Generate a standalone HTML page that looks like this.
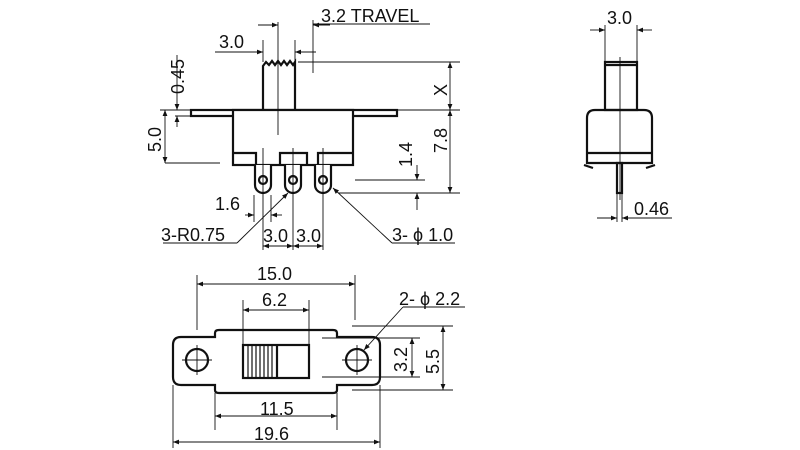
<!DOCTYPE html>
<html><head><meta charset="utf-8"><style>
body{margin:0;background:#fff;}
svg{display:block;}
text{font-family:"Liberation Sans",Arial,sans-serif;font-size:18px;fill:#111;}
</style></head><body>
<svg width="800" height="450" viewBox="0 0 800 450" xmlns="http://www.w3.org/2000/svg">
<defs>
<marker id="a" viewBox="0 0 10 10" refX="10" refY="5" markerWidth="9" markerHeight="6" orient="auto-start-reverse" markerUnits="userSpaceOnUse"><path d="M0,1 L10,5 L0,9 z" fill="#111"/></marker>
</defs>
<g fill="none" stroke="#111">
<g stroke-width="2.2">
<rect x="191" y="110" width="206" height="6"/>
<rect x="233" y="110" width="120" height="55" fill="#fff"/>
<path d="M233,153 H256 V165 M280,165 V153 H307 V165 M318,165 V153 H353"/>
<path d="M263,110 V66 L266,62 L269,65 L272,61 L275,65 L278,61 L281,65 L284,61 L287,65 L290,61 L293,65 L295,62 V110"/>
<path d="M255,165 V185 A8,8 0 0 0 271,185 V165" fill="#fff"/>
<path d="M285,165 V185 A8,8 0 0 0 301,185 V165" fill="#fff"/>
<path d="M315,165 V185 A8,8 0 0 0 331,185 V165" fill="#fff"/>
<circle cx="263" cy="180" r="4"/><circle cx="293" cy="180" r="4"/><circle cx="323" cy="180" r="4"/>
</g>
<g stroke-width="0.9">
<path d="M278,22 V135 M293,148 V250 M263,148 V250 M323,148 V250 M254,195 V222 M271,195 V222"/>
<path d="M313,20 V73 M263,40 V62 M295,40 V62"/>
<path d="M298,62 H460 M397,110 H460 M338,193 H460 M355,180 H425 M160,110 H191 M175,116 H191 M165,163 H220"/>
<path d="M430,24 H313"/>
<line x1="258" y1="25" x2="278" y2="25" marker-end="url(#a)"/>
<line x1="330" y1="25" x2="313" y2="25" marker-end="url(#a)"/>
<line x1="215" y1="52" x2="263" y2="52" marker-end="url(#a)"/>
<line x1="316" y1="52" x2="295" y2="52" marker-end="url(#a)"/>
<line x1="450" y1="62" x2="450" y2="110" marker-start="url(#a)" marker-end="url(#a)"/>
<line x1="450" y1="110" x2="450" y2="193" marker-start="url(#a)" marker-end="url(#a)"/>
<line x1="417" y1="165" x2="417" y2="180" marker-end="url(#a)"/>
<line x1="417" y1="210" x2="417" y2="193" marker-end="url(#a)"/>
<line x1="177" y1="55" x2="177" y2="110" marker-end="url(#a)"/>
<line x1="177" y1="127" x2="177" y2="116" marker-end="url(#a)"/>
<line x1="165" y1="110" x2="165" y2="163" marker-start="url(#a)" marker-end="url(#a)"/>
<line x1="245" y1="215" x2="254" y2="215" marker-end="url(#a)"/>
<line x1="282" y1="215" x2="271" y2="215" marker-end="url(#a)"/>
<line x1="263" y1="246" x2="293" y2="246" marker-start="url(#a)" marker-end="url(#a)"/>
<line x1="293" y1="246" x2="323" y2="246" marker-start="url(#a)" marker-end="url(#a)"/>
<path d="M163,243 H237"/>
<line x1="237" y1="243" x2="288" y2="193" marker-end="url(#a)"/>
<path d="M455,243 H392"/>
<line x1="392" y1="243" x2="333" y2="188" marker-end="url(#a)"/>
</g>
<g stroke-width="2.2">
<path d="M587,163 V118 Q587,110 595,110 H644 Q652,110 652,118 V163 Z"/>
<path d="M587,153 H652"/>
<rect x="605" y="62" width="32" height="48"/><path d="M605,65 H637"/>
<rect x="617" y="163" width="5" height="30"/>
<path d="M584,165 L593,168 M655,165 L646,168"/>
</g>
<g stroke-width="0.9">
<path d="M620,57 V200 M605,25 V62 M637,25 V62 M617,193 V222 M622,193 V222"/>
<line x1="590" y1="30" x2="605" y2="30" marker-end="url(#a)"/>
<line x1="652" y1="30" x2="637" y2="30" marker-end="url(#a)"/>
<line x1="597" y1="218" x2="617" y2="218" marker-end="url(#a)"/>
<line x1="672" y1="218" x2="622" y2="218" marker-end="url(#a)"/>
</g>
<g stroke-width="2.2">
<path d="M215,337 V333 Q215,330 219,330 H333 Q337,330 337,333 V337 H372 Q380,337 380,345 V377 Q380,385 372,385 H337 V390 Q337,393 333,393 H219 Q215,393 215,390 V385 H181 Q173,385 173,377 V345 Q173,337 181,337 Z"/>
<circle cx="197" cy="360" r="11"/><circle cx="357" cy="360" r="11"/>
<rect x="243" y="345" width="66" height="33"/>
<path d="M277,345 V378" />
</g>
<g stroke-width="1.2"><path d="M248,345 V378 M252,345 V378 M256,345 V378 M260,345 V378 M264,345 V378 M268,345 V378 M272,345 V378"/></g>
<g stroke-width="0.9">
<path d="M182,360 H212 M197,345 V375 M342,360 H372 M357,345 V375"/>
<path d="M197,275 V330 M355,275 V320 M243,300 V345 M309,300 V345 M215,393 V430 M337,393 V430 M173,385 V448 M380,385 V448"/>
<path d="M322,338 H420 M322,377 H420 M352,326 H453 M352,390 H453 M403,307 H465"/>
<line x1="197" y1="284" x2="355" y2="284" marker-start="url(#a)" marker-end="url(#a)"/>
<line x1="243" y1="310" x2="309" y2="310" marker-start="url(#a)" marker-end="url(#a)"/>
<line x1="215" y1="416" x2="337" y2="416" marker-start="url(#a)" marker-end="url(#a)"/>
<line x1="173" y1="442" x2="380" y2="442" marker-start="url(#a)" marker-end="url(#a)"/>
<line x1="412" y1="338" x2="412" y2="377" marker-start="url(#a)" marker-end="url(#a)"/>
<line x1="443" y1="326" x2="443" y2="390" marker-start="url(#a)" marker-end="url(#a)"/>
<line x1="403" y1="307" x2="364" y2="350" marker-end="url(#a)"/>
</g>
</g>
<text x="321" y="22">3.2 TRAVEL</text>
<text x="219" y="48">3.0</text>
<text transform="translate(184,94) rotate(-90)">0.45</text>
<text transform="translate(161,152) rotate(-90)">5.0</text>
<text transform="translate(447,96) rotate(-90)">X</text>
<text transform="translate(447,153) rotate(-90)">7.8</text>
<text transform="translate(412,167) rotate(-90)">1.4</text>
<text x="215" y="210">1.6</text>
<text x="161" y="241">3-R0.75</text>
<text x="263" y="242">3.0</text>
<text x="296" y="242">3.0</text>
<text x="392" y="241">3- ϕ 1.0</text>
<text x="607" y="24">3.0</text>
<text x="634" y="215">0.46</text>
<text x="257" y="280">15.0</text>
<text x="262" y="306">6.2</text>
<text x="399" y="305">2- ϕ 2.2</text>
<text transform="translate(407,372) rotate(-90)">3.2</text>
<text transform="translate(439,374) rotate(-90)">5.5</text>
<text x="260" y="415">11.5</text>
<text x="254" y="440">19.6</text>
</svg>
</body></html>
